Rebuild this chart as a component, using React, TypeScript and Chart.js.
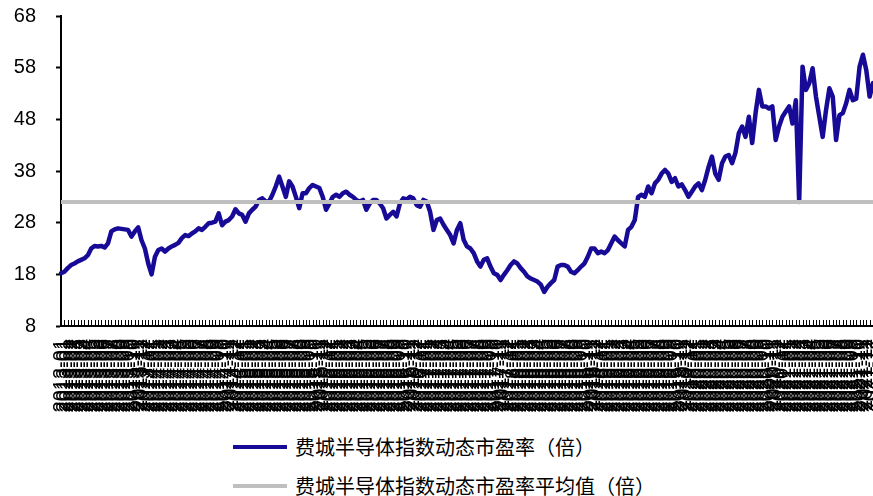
import React, { useEffect, useRef } from 'react';
import { Chart, registerables } from 'chart.js';

Chart.register(...registerables);

// PE readings, left to right
const peSeg1 = [
  18.2, 18.5, 19.2, 19.8, 20.1, 20.5, 20.8, 21.1, 21.7, 23.0,
  23.5, 23.4, 23.5, 23.2, 24.0, 26.3, 26.7, 26.9, 26.8, 26.7,
  26.6, 25.3, 26.3, 27.1, 24.6, 23.0, 20.1, 18.0, 21.4, 22.7,
  23.0, 22.4, 23.0, 23.4, 23.7, 24.1, 25.0, 25.6, 25.4, 25.9,
  26.3, 26.9, 26.6, 27.2, 27.9, 28.0, 28.2, 29.8, 27.5, 28.2,
  28.5, 29.2, 30.6, 29.8, 29.5, 28.2, 29.8, 30.5, 31.1, 32.4,
  32.7, 32.1, 32.1, 33.4, 35.0,
];
const peSeg2 = [
  36.9, 35.0, 33.0, 36.0, 35.0, 33.0, 30.8, 33.7, 33.7, 34.7,
  35.3, 35.0, 34.7, 33.0, 30.5, 31.7, 33.0, 33.4, 33.0, 33.7,
  34.0, 33.4, 33.0, 32.4, 32.1, 32.4, 30.5, 31.7, 32.4, 32.4,
  31.7, 30.8, 28.8, 29.5, 30.1, 29.2, 31.7, 32.7, 32.5, 33.0,
  32.7, 31.4, 31.1, 32.4, 32.1, 30.1, 26.6, 28.5, 28.8, 27.6,
  26.6, 25.6, 24.0, 26.6, 27.9, 24.7, 23.4, 23.0, 22.1, 20.5,
  19.5, 20.8, 21.1, 19.5, 18.2, 17.9, 16.9, 17.9, 18.8, 19.8,
  20.5, 20.1, 19.2, 18.5, 17.6, 17.2, 16.9, 16.6, 16.0, 14.6,
  15.6, 16.3, 16.9, 19.5, 19.8, 19.8, 19.5, 18.5, 18.2, 18.8,
];
const peSeg3 = [
  19.5, 20.1, 21.4, 23.0, 23.0, 22.1, 22.4, 22.1, 22.7, 24.0,
  25.3, 24.6, 24.0, 23.4, 26.6, 27.2, 28.5, 33.0, 33.4, 33.0,
  35.0, 33.7, 35.6, 36.3, 37.5, 38.2, 37.5, 35.9, 36.6, 35.0,
  35.4, 34.3, 33.0, 34.0, 35.0, 35.6, 34.3, 36.3, 38.8, 40.8,
  37.5, 36.3, 39.5, 40.8, 41.1, 39.5, 41.5, 45.3, 46.6, 44.6,
  48.5, 43.4, 49.2, 53.7, 50.5, 50.5, 50.1, 50.5, 44.0, 46.6,
  48.5, 49.5, 50.5, 47.2, 51.7, 32.0, 58.2, 53.7, 55.0, 57.9,
  52.4, 48.5, 44.6, 49.8, 54.0, 52.4, 44.0, 48.8, 49.2, 51.1,
  53.7, 51.7, 52.0, 58.2, 60.5, 57.5, 52.4, 55.0,
];
const peValues = [...peSeg1, ...peSeg2, ...peSeg3];

const avgPE = 32;
const avgValues = peValues.map(() => avgPE);

// date labels, yyyy-mm, spread over the period
const startYear = 2013;
const monthSpan = 108;
const dateLabels = peValues.map((_, i) => {
  const m = Math.floor((i * monthSpan) / peValues.length);
  const y = startYear + Math.floor(m / 12);
  return `${y}-${String((m % 12) + 1).padStart(2, '0')}`;
});

const yMin = 8;
const yMax = 68;
const yStep = 10;

const seriesNames = ['费城半导体指数动态市盈率（倍）', '费城半导体指数动态市盈率平均值（倍）'];
const seriesColors = ['#170A96', '#BFBFBF'];

const tickFont = { family: 'Arial, "Liberation Sans", sans-serif', size: 20 };

// excel style ticks pointing up into the plot
const innerTicks = {
  id: 'innerTicks',
  afterDatasetsDraw(chart: any) {
    const xs = chart.scales.x;
    const bottom = chart.chartArea.bottom;
    const ctx = chart.ctx;
    ctx.save();
    ctx.strokeStyle = '#000';
    ctx.lineWidth = 1;
    ctx.beginPath();
    for (let i = 0; i < xs.ticks.length; i++) {
      const px = Math.round(xs.getPixelForTick(i)) + 0.5;
      ctx.moveTo(px, bottom);
      ctx.lineTo(px, bottom - 6);
    }
    ctx.stroke();
    ctx.restore();
  },
};

export default function App() {
  const canvasRef = useRef<HTMLCanvasElement | null>(null);

  useEffect(() => {
    document.body.style.margin = '0';
    if (!canvasRef.current) return;
    const chart = new Chart(canvasRef.current, {
      type: 'line',
      data: {
        labels: dateLabels,
        datasets: [
          {
            label: seriesNames[0],
            data: peValues,
            borderColor: seriesColors[0],
            borderWidth: 4.5,
            borderJoinStyle: 'round',
            borderCapStyle: 'round',
            pointRadius: 0,
            tension: 0,
            order: 1,
          },
          {
            label: seriesNames[1],
            data: avgValues,
            borderColor: seriesColors[1],
            borderWidth: 4,
            pointRadius: 0,
            order: 0,
          },
        ],
      },
      options: {
        responsive: true,
        maintainAspectRatio: false,
        animation: false,
        layout: { padding: { top: 16, left: 0, right: 0, bottom: 0 } },
        plugins: {
          legend: { display: false },
          tooltip: { enabled: false },
        },
        scales: {
          x: {
            type: 'category',
            offset: false,
            grid: { display: true, drawOnChartArea: false, drawTicks: false },
            border: { display: true, color: '#000', width: 2 },
            ticks: {
              autoSkip: false,
              minRotation: 90,
              maxRotation: 90,
              padding: 13,
              color: '#000',
              font: tickFont,
            },
            afterFit: (scale: any) => {
              scale.height = 94;
              scale.paddingLeft = 0;
              scale.paddingRight = 0;
            },
          },
          y: {
            min: yMin,
            max: yMax,
            grid: { drawOnChartArea: false, drawTicks: true, tickLength: 5, tickWidth: 2, tickColor: '#000' },
            border: { display: true, color: '#000', width: 2 },
            ticks: {
              stepSize: yStep,
              padding: 20,
              color: '#000',
              font: tickFont,
            },
            afterFit: (scale: any) => {
              scale.width = 61;
              scale.paddingTop = 0;
              scale.paddingBottom = 0;
            },
          },
        },
      },
      plugins: [innerTicks],
    });
    return () => chart.destroy();
  }, []);

  const legendFont = '"Noto Sans CJK SC", "Noto Sans", sans-serif';

  return (
    <div style={{ position: 'relative', width: 873, height: 496, background: '#fff', overflow: 'hidden' }}>
      <div style={{ position: 'absolute', left: 0, top: 0, width: 873, height: 420 }}>
        <canvas ref={canvasRef} />
      </div>
      {seriesNames.map((name, i) => (
        <div key={name} style={{ position: 'absolute', left: 233, top: 437 + i * 39, height: 20, display: 'flex', alignItems: 'center' }}>
          <div style={{ width: 54, height: 4, background: seriesColors[i] }} />
          <span style={{ marginLeft: 8, fontFamily: legendFont, fontSize: 20, lineHeight: '20px', color: '#000', whiteSpace: 'nowrap' }}>
            {name}
          </span>
        </div>
      ))}
    </div>
  );
}
